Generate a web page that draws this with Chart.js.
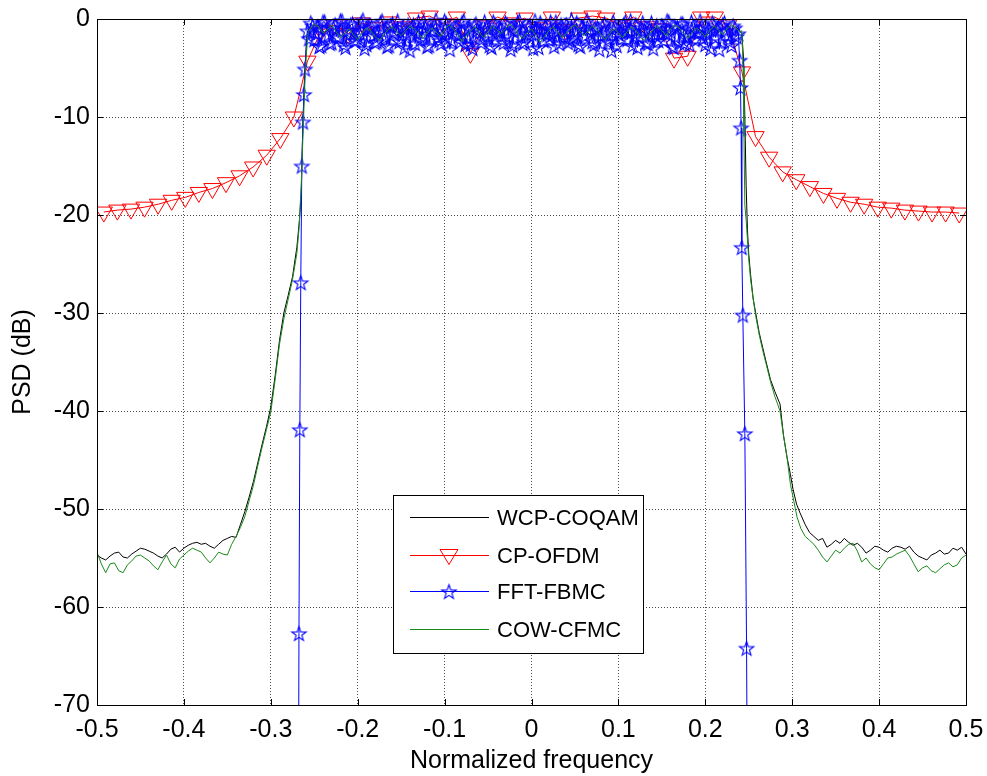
<!DOCTYPE html>
<html>
<head>
<meta charset="utf-8">
<script src="https://cdn.jsdelivr.net/npm/chart.js@4.4.0/dist/chart.umd.min.js"></script>
<style>
  html, body { margin: 0; padding: 0; background: #fff; }
</style>
</head>
<body>
<canvas id="psd" width="987" height="776"></canvas>
<script>
// axis ticks
const xTicks = [-0.5, -0.4, -0.3, -0.2, -0.1, 0, 0.1, 0.2, 0.3, 0.4, 0.5];
const xTickLabels = ['-0.5', '-0.4', '-0.3', '-0.2', '-0.1', '0', '0.1', '0.2', '0.3', '0.4', '0.5'];
const yTicks = [-70, -60, -50, -40, -30, -20, -10, 0];
const yTickLabels = ['-70', '-60', '-50', '-40', '-30', '-20', '-10', '0'];

const seriesNames = ['WCP-COQAM', 'CP-OFDM', 'FFT-FBMC', 'COW-CFMC'];

// frequency bins (uniform FFT grid pieces)
function bins(first, step, count) {
  const out = [];
  for (let i = 0; i < count; i++) out.push(+(first + i * step).toFixed(6));
  return out;
}

// WCP-COQAM (black)
const blackTailL = [-54.7, -55.0, -55.2, -54.8, -54.5, -54.4, -54.9, -55.0, -54.6, -54.3,
  -54.0, -54.1, -54.3, -54.5, -54.8, -55.0, -54.6, -54.1, -53.9, -54.4,
  -54.0, -53.7, -53.5, -53.4, -53.6, -53.5, -53.8, -54.0, -53.6, -53.2,
  -53.0, -52.8];
const blackEdgeLF = [-0.34, -0.335, -0.33, -0.325, -0.32, -0.315, -0.31, -0.305, -0.3, -0.295,
  -0.29, -0.285, -0.28, -0.275, -0.27, -0.267, -0.265, -0.263, -0.261, -0.259, -0.257];
const blackEdgeL = [-52.9, -51.6, -50.3, -48.8, -47.2, -45.3, -43.4, -41.6, -39.6, -36.4,
  -32.8, -30.0, -28.2, -26.3, -23.3, -20.5, -17.8, -10.5, -5.5, -2.5, -1.2];
const blackBand = [-0.8, -1.3, -0.6, -1.7, -1.0, -1.9, -1.2, -0.7, -1.6, -2.1,
  -1.1, -0.6, -1.4, -1.8, -0.9, -1.5, -2.0, -1.3, -0.8, -1.2,
  -1.7, -1.0, -0.5, -1.4, -1.9, -1.1, -0.7, -1.6, -1.2, -0.9,
  -1.5, -2.2, -1.3, -0.8, -1.1, -1.7, -1.0, -0.6, -1.3, -1.8,
  -1.2, -0.7, -1.5, -2.0, -1.4, -0.9, -1.2, -1.6, -1.1, -0.8,
  -1.3, -1.9, -1.4, -0.8, -1.0, -1.5, -2.1, -1.6, -1.0, -0.7,
  -1.2, -1.8, -1.3, -0.9, -1.4, -2.0, -1.5, -1.1, -0.6, -1.0,
  -1.6, -1.2, -0.8, -1.3, -1.9, -1.4, -1.0, -1.5, -2.2, -1.6,
  -1.1, -0.7, -1.2, -1.7, -1.3, -0.8, -1.1, -1.6, -1.0, -0.6,
  -1.2, -1.8, -1.3, -0.9, -1.4, -1.0, -0.7, -1.1, -0.8, -1.2];
const blackEdgeRF = [0.242, 0.244, 0.2455, 0.247, 0.2485, 0.25, 0.252, 0.255, 0.258, 0.262,
  0.266, 0.27, 0.275, 0.28, 0.286, 0.29, 0.294, 0.298, 0.301, 0.305, 0.309, 0.315, 0.32];
const blackEdgeR = [-1.5, -4.0, -10.0, -17.0, -21.5, -24.0, -26.0, -28.5, -30.0, -32.0,
  -33.5, -35.0, -36.8, -38.0, -39.3, -42.5, -44.7, -46.5, -48.0, -49.5, -50.4, -51.6, -52.4];
const blackTailR = [-52.8, -53.2, -53.0, -53.9, -53.6, -53.2, -53.5, -53.0, -53.4, -53.7,
  -53.5, -53.9, -54.5, -54.2, -53.8, -53.9, -54.2, -54.4, -54.0, -53.8,
  -53.9, -54.1, -53.8, -54.4, -54.8, -55.0, -55.2, -54.7, -54.5, -54.2,
  -54.6, -54.5, -54.0, -54.2, -53.9, -54.6];

// COW-CFMC (green)
const greenTailL = [-54.4, -55.6, -56.5, -55.6, -55.5, -56.3, -56.5, -55.7, -55.3, -54.8,
  -54.7, -55.0, -55.3, -55.8, -56.2, -55.4, -54.7, -55.6, -56.0, -55.1,
  -54.7, -54.3, -54.0, -54.2, -54.4, -55.0, -55.5, -55.0, -54.4, -54.6,
  -54.7, -53.6];
const greenEdgeLF = [-0.34, -0.335, -0.33, -0.325, -0.32, -0.315, -0.31, -0.305, -0.3, -0.295,
  -0.29, -0.285, -0.28, -0.275, -0.27, -0.2676, -0.265, -0.263, -0.261, -0.259, -0.257];
const greenEdgeL = [-52.8, -51.9, -50.8, -49.2, -47.6, -45.6, -43.7, -41.9, -40.1, -36.8,
  -33.2, -30.6, -28.6, -26.6, -23.9, -21.5, -17.0, -12.0, -7.0, -3.5, -1.3];
const greenBand = [-1.0, -0.5, -0.8, -1.4, -1.1, -0.6, -1.3, -1.9, -1.5, -1.0,
  -1.6, -2.1, -1.4, -0.9, -1.2, -1.8, -2.2, -1.6, -1.1, -0.8,
  -1.3, -1.7, -1.2, -0.7, -1.0, -1.5, -2.0, -1.4, -0.9, -1.3,
  -1.8, -1.1, -0.6, -1.0, -1.6, -2.3, -1.7, -1.2, -0.8, -1.4,
  -1.9, -1.3, -0.7, -1.1, -1.5, -1.0, -0.5, -0.9, -1.6, -2.0,
  -1.4, -1.0, -1.7, -2.4, -1.8, -1.2, -0.8, -1.3, -1.9, -1.5,
  -0.9, -0.6, -1.1, -1.7, -1.2, -0.7, -1.0, -1.6, -2.1, -1.5,
  -1.0, -1.4, -1.9, -1.3, -0.8, -1.2, -1.8, -2.2, -1.6, -1.1,
  -0.7, -1.2, -1.7, -1.0, -0.6, -0.9, -1.5, -2.0, -1.4, -0.9,
  -1.3, -1.8, -1.2, -0.7, -1.1, -1.6, -1.0, -0.6, -0.9, -1.3];
const greenEdgeRF = [0.242, 0.2435, 0.2445, 0.2455, 0.247, 0.2485, 0.25, 0.252, 0.255, 0.258,
  0.262, 0.266, 0.27, 0.275, 0.28, 0.286, 0.29, 0.294, 0.298, 0.3055, 0.31, 0.315, 0.32];
const greenEdgeR = [-1.2, -5.0, -12.0, -19.0, -20.5, -22.5, -24.5, -26.5, -28.5, -30.3,
  -32.2, -33.8, -35.2, -37.0, -38.5, -40.0, -42.5, -44.7, -47.5, -50.8, -52.0, -52.8, -53.2];
const greenTailR = [-53.6, -54.2, -54.9, -55.4, -54.8, -54.2, -54.5, -54.0, -53.6, -53.5,
  -54.3, -55.4, -55.0, -55.6, -56.0, -56.2, -55.6, -55.0, -54.9, -54.6,
  -54.4, -54.2, -54.8, -55.6, -56.4, -56.0, -55.8, -56.3, -56.5, -56.1,
  -55.7, -55.5, -55.9, -55.7, -55.0, -54.7];

// CP-OFDM (red), one marker per 1/64 bin
const redVals = [-19.7, -19.5, -19.4, -19.2, -18.9, -18.5, -18.2, -17.7, -17.3, -16.7,
  -16.0, -15.1, -13.9, -12.2, -10.0, -4.3,
  -1.2, -0.6, -1.5, -0.4, -0.9, -0.3, -0.8, 0.1, 0.3, -0.5,
  0.2, -3.5, -0.7, 0.2, -0.4, 0.1, -0.9, 0.2, -1.1, 0.1,
  0.3, 0.1, -0.6, 0.2, -0.8, -1.0, -4.0, -3.8, 0.2, 0.2, -0.6,
  -5.4, -12.0, -14.1, -15.6, -16.4, -17.1, -17.8, -18.3, -18.7, -18.9,
  -19.2, -19.3, -19.5, -19.6, -19.7, -19.7, -19.8];

// FFT-FBMC (blue): steep edges, dense in-band bins (even and odd bins)
const blueEdgeLF = [-0.269, -0.2676, -0.2666, -0.2655, -0.2643, -0.263, -0.2618, -0.2606];
const blueEdgeL = [-110, -62.7, -41.9, -26.9, -15.0, -10.5, -7.7, -5.1];
const blueBandEven = [-1.2, -0.4, -2.1, -0.8, -2.7, -0.3, -1.6, -2.4, -0.6, -1.9,
  -0.2, -2.9, -1.1, -0.5, -2.2, -1.4, -0.1, -2.6, -0.9, -1.7,
  -2.3, -0.4, -1.3, -2.8, -0.7, -1.5, -0.2, -2.0, -2.9, -0.6,
  -1.0, -2.5, -0.3, -1.8, -0.9, -2.7, -1.2, -0.1, -2.2, -1.6,
  -0.5, -3.1, -1.4, -0.8, -2.3, -0.2, -1.9, -2.6, -0.7, -1.1,
  -2.4, -0.3, -1.7, -2.9, -0.6, -1.3, -2.1, -0.4, -1.8, -2.7,
  -0.9, -0.2, -2.5, -1.5, -0.7, -3.0, -1.0, -0.4, -2.2, -1.6,
  -0.3, -2.8, -1.2, -0.6, -1.9, -2.4, -0.1, -1.4, -2.6, -0.8,
  -1.7, -0.5, -2.3, -1.1, -3.1, -0.7, -1.5, -2.0, -0.3, -2.7,
  -1.3, -0.6, -2.1, -0.2, -1.8, -2.9, -0.9, -1.2, -2.5, -0.4,
  -1.6, -2.2, -0.7, -1.4, -0.3, -2.8, -1.0, -2.4, -0.5, -1.9,
  -2.6, -0.8, -1.3, -0.2, -2.0, -1.5, -3.0, -0.6, -1.1, -2.3,
  -0.4, -1.7, -2.7, -0.9, -1.5];
const blueBandOdd = [-2.0, -0.7, -1.5, -2.8, -0.3, -1.1, -2.5, -0.9, -1.8, -0.2,
  -2.6, -1.3, -0.6, -2.2, -1.7, -0.4, -3.0, -1.0, -0.8, -2.4,
  -1.4, -0.2, -1.9, -2.7, -0.5, -1.2, -2.3, -0.9, -1.6, -3.2,
  -0.6, -1.5, -2.1, -0.3, -2.8, -1.1, -0.7, -1.9, -2.5, -0.2,
  -1.3, -2.2, -0.8, -1.7, -0.4, -2.6, -1.0, -3.0, -0.5, -1.4,
  -2.0, -0.9, -2.7, -0.3, -1.6, -1.1, -2.4, -0.6, -3.1, -1.2,
  -0.4, -1.8, -2.3, -0.8, -1.5, -0.2, -2.9, -1.3, -0.7, -2.1,
  -1.6, -0.3, -2.5, -1.0, -0.6, -2.2, -1.9, -0.4, -2.8, -1.1,
  -0.2, -1.4, -2.6, -0.9, -1.7, -0.5, -2.3, -3.2, -0.8, -1.5,
  -2.0, -0.3, -1.2, -2.7, -0.6, -1.8, -0.4, -2.4, -1.1, -3.0,
  -0.7, -1.6, -2.2, -0.2, -1.3, -2.9, -0.9, -0.5, -2.5, -1.7,
  -0.3, -2.1, -1.4, -0.8, -2.6, -1.0, -0.4, -1.9, -3.1, -0.6,
  -1.2, -2.3, -0.7, -1.8];
const blueEdgeRF = [0.2395, 0.2405, 0.2412, 0.242, 0.2432, 0.2455, 0.2475, 0.25];
const blueEdgeR = [-4.2, -7.0, -11.1, -23.3, -30.2, -42.3, -64.2, -110];

const cwFreq = (edgeL, edgeR) => [].concat(bins(-0.5, 0.005, 32), edgeL, bins(-0.255, 0.005, 100), edgeR, bins(0.325, 0.005, 36));
const pts = (xs, ys) => xs.map((x, i) => ({ x: x, y: ys[i] }));

const blackPts = pts(cwFreq(blackEdgeLF, blackEdgeRF),
  [].concat(blackTailL, blackEdgeL, blackBand, blackEdgeR, blackTailR));
const greenPts = pts(cwFreq(greenEdgeLF, greenEdgeRF),
  [].concat(greenTailL, greenEdgeL, greenBand, greenEdgeR, greenTailR));
const redPts = pts(bins(-0.4921875, 0.015625, 64), redVals);

const blueBand = [];
blueBandEven.forEach((v, k) => {
  blueBand.push(v);
  if (k < blueBandOdd.length) blueBand.push(blueBandOdd[k]);
});
const bluePts = pts([].concat(blueEdgeLF, bins(-0.258, 0.002, blueBand.length), blueEdgeRF),
  [].concat(blueEdgeL, blueBand, blueEdgeR));

// pentagram marker like MATLAB 'p'
function starMarker(color, rOut) {
  const size = Math.ceil(rOut * 2) + 4;
  const c = document.createElement('canvas');
  c.width = size; c.height = size;
  const g = c.getContext('2d');
  g.strokeStyle = color;
  g.lineWidth = 1.1;
  g.beginPath();
  for (let i = 0; i < 10; i++) {
    const r = i % 2 ? rOut * 0.4 : rOut;
    const a = -Math.PI / 2 + i * Math.PI / 5;
    const px = size / 2 + r * Math.cos(a), py = size / 2 + 0.8 + r * Math.sin(a);
    if (i) g.lineTo(px, py); else g.moveTo(px, py);
  }
  g.closePath();
  g.stroke();
  return c;
}
const blueStar = starMarker('#0000ff', 7.5);

const FONT = 'Liberation Sans, Arial, sans-serif';

// axes box with inward ticks
const frameBox = {
  id: 'frameBox',
  afterDatasetsDraw(chart) {
    const { ctx, chartArea: a, scales } = chart;
    ctx.save();
    ctx.strokeStyle = '#000';
    ctx.lineWidth = 1;
    ctx.strokeRect(Math.round(a.left) + 0.5, Math.round(a.top) + 0.5,
      Math.round(a.right - a.left), Math.round(a.bottom - a.top));
    ctx.beginPath();
    xTicks.forEach(v => {
      const px = Math.round(scales.x.getPixelForValue(v)) + 0.5;
      ctx.moveTo(px, a.bottom); ctx.lineTo(px, a.bottom - 6);
      ctx.moveTo(px, a.top); ctx.lineTo(px, a.top + 6);
    });
    yTicks.forEach(v => {
      const py = Math.round(scales.y.getPixelForValue(v)) + 0.5;
      ctx.moveTo(a.left, py); ctx.lineTo(a.left + 6, py);
      ctx.moveTo(a.right, py); ctx.lineTo(a.right - 6, py);
    });
    ctx.stroke();
    ctx.restore();
  }
};

// legend box drawn inside the plot
const boxLegend = {
  id: 'boxLegend',
  afterDraw(chart, args, opts) {
    const ctx = chart.ctx;
    const { left, top, width, height, rows } = opts;
    ctx.save();
    ctx.fillStyle = '#fff';
    ctx.fillRect(left, top, width, height);
    ctx.strokeStyle = '#000';
    ctx.lineWidth = 1;
    ctx.strokeRect(left + 0.5, top + 0.5, width, height);
    ctx.font = '22px ' + FONT;
    ctx.textBaseline = 'middle';
    chart.data.datasets.forEach((ds, i) => {
      const y = rows[i] + 0.5;
      ctx.strokeStyle = ds.borderColor;
      ctx.beginPath();
      ctx.moveTo(left + 17, y); ctx.lineTo(left + 96, y);
      ctx.stroke();
      const cx = left + 56;
      if (ds.pointStyle === 'triangle') {
        ctx.beginPath();
        ctx.moveTo(cx - 9, y - 6); ctx.lineTo(cx + 9, y - 6); ctx.lineTo(cx, y + 9);
        ctx.closePath();
        ctx.stroke();
      } else if (ds.pointStyle === blueStar) {
        ctx.drawImage(blueStar, cx - blueStar.width / 2, y - blueStar.height / 2);
      }
      ctx.fillStyle = '#000';
      ctx.fillText(ds.label, left + 104, y + 1);
    });
    ctx.restore();
  }
};

new Chart(document.getElementById('psd'), {
  type: 'line',
  data: {
    datasets: [
      { label: seriesNames[0], data: blackPts, borderColor: '#000000', borderWidth: 1,
        pointRadius: 0, order: 4, clip: { left: 0, right: 0, top: 20, bottom: 0 } },
      { label: seriesNames[1], data: redPts, borderColor: '#ff0000', borderWidth: 1,
        pointStyle: 'triangle', pointRotation: 180, pointRadius: 10, pointBorderWidth: 1,
        pointBorderColor: '#ff0000', pointBackgroundColor: 'rgba(0,0,0,0)', order: 3,
        clip: { left: 0, right: 0, top: 20, bottom: 0 } },
      { label: seriesNames[2], data: bluePts, borderColor: '#0000ff', borderWidth: 1,
        pointStyle: blueStar, pointRadius: 4, order: 2,
        clip: { left: 10, right: 10, top: 20, bottom: 0 } },
      { label: seriesNames[3], data: greenPts, borderColor: '#1a8a1a', borderWidth: 1,
        pointRadius: 0, order: 1, clip: { left: 0, right: 0, top: 20, bottom: 0 } }
    ]
  },
  options: {
    responsive: false,
    animation: false,
    events: [],
    layout: { padding: { left: 0, right: 21, top: 19, bottom: 0 } },
    elements: { line: { tension: 0 } },
    plugins: {
      legend: { display: false },
      tooltip: { enabled: false },
      boxLegend: { left: 393, top: 495, width: 250, height: 158, rows: [517, 555, 591, 629] }
    },
    scales: {
      x: {
        type: 'linear', min: -0.5, max: 0.5,
        afterBuildTicks: s => { s.ticks = xTicks.map(v => ({ value: v })); },
        afterFit: s => { s.height = 71; s.paddingLeft = 0; s.paddingRight = 0; },
        ticks: { autoSkip: false, maxRotation: 0, padding: 10, color: '#000',
          font: { family: FONT, size: 25 }, callback: (v, i) => xTickLabels[i] },
        grid: { color: 'rgba(0,0,0,0.7)', lineWidth: 1, drawTicks: false },
        border: { display: false, dash: [1, 2] },
        title: { display: true, text: 'Normalized frequency', color: '#000',
          font: { family: FONT, size: 25 }, padding: { top: 0, bottom: 0 } }
      },
      y: {
        type: 'linear', min: -70, max: 0,
        afterBuildTicks: s => { s.ticks = yTicks.map(v => ({ value: v })); },
        afterFit: s => { s.width = 97; s.paddingTop = 0; s.paddingBottom = 0; },
        ticks: { autoSkip: false, padding: 7, color: '#000',
          font: { family: FONT, size: 25 }, callback: (v, i) => yTickLabels[i] },
        grid: { color: 'rgba(0,0,0,0.7)', lineWidth: 1, drawTicks: false },
        border: { display: false, dash: [1, 2] },
        title: { display: true, text: 'PSD (dB)', color: '#000',
          font: { family: FONT, size: 25 }, padding: { top: 8, bottom: 0 } }
      }
    }
  },
  plugins: [frameBox, boxLegend]
});
</script>
</body>
</html>
